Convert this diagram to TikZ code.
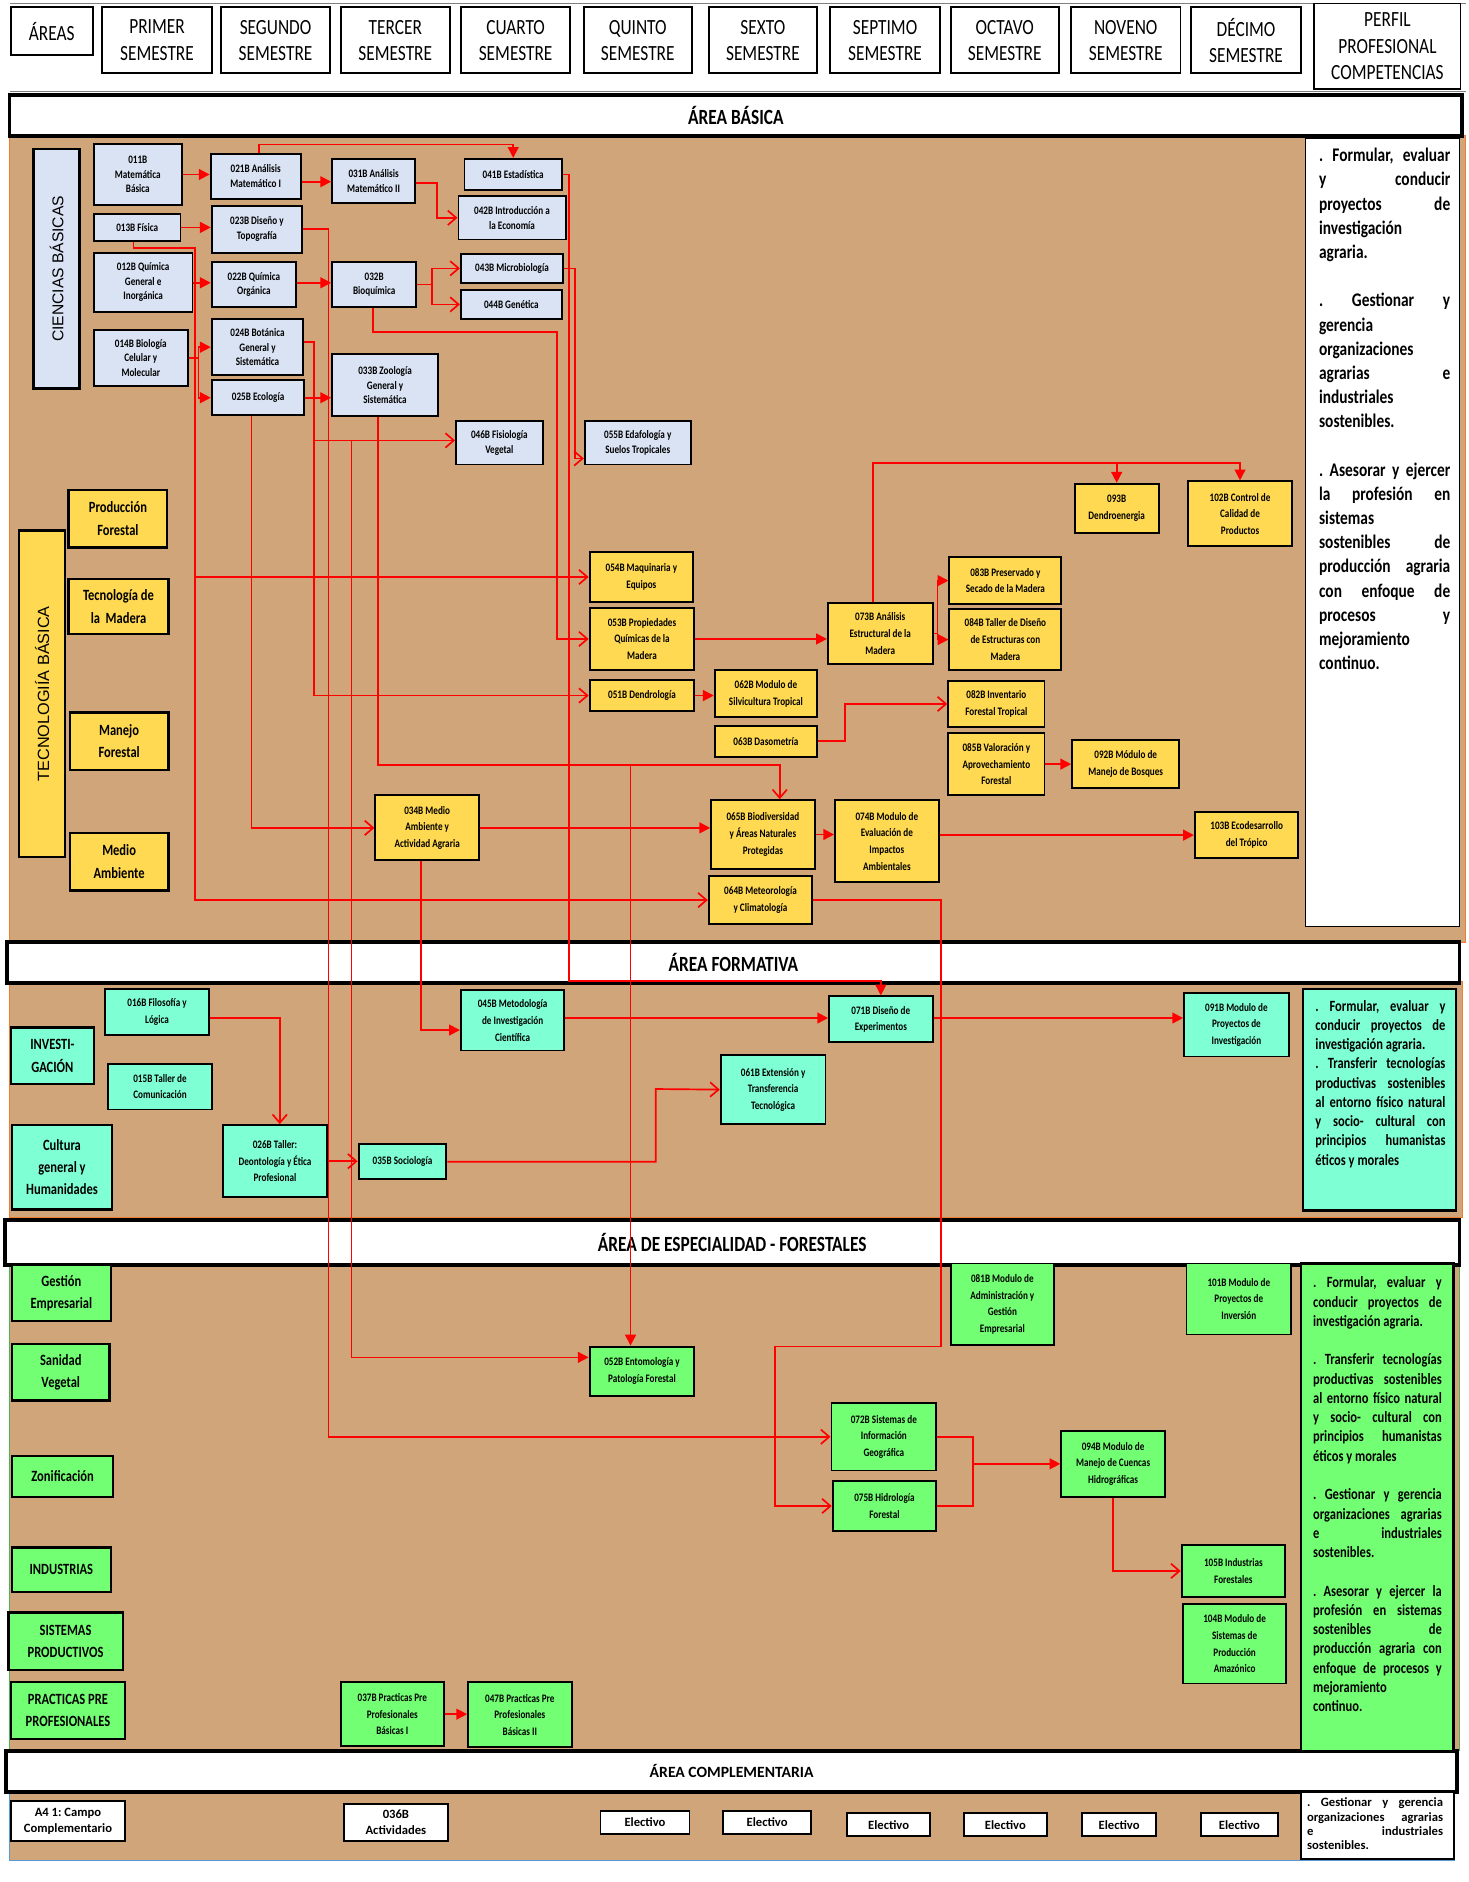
\documentclass[tikz,border=0pt]{standalone}
\usepackage{fontspec}
\setmainfont{Carlito}
\newfontfamily\cf[FakeStretch=0.8]{Carlito}
\newfontfamily\gf{Liberation Sans}
\usetikzlibrary{arrows.meta}
\definecolor{tanc}{RGB}{207,165,121}
\definecolor{lblue}{RGB}{218,227,243}
\definecolor{yel}{RGB}{255,217,82}
\definecolor{aqua}{RGB}{127,255,212}
\definecolor{lgreen}{RGB}{115,255,115}
\definecolor{orng}{RGB}{237,125,49}
\definecolor{bordb}{RGB}{91,155,213}
\pgfdeclarelayer{bg}
\pgfdeclarelayer{wires}
\pgfsetlayers{bg,wires,main}
\newcommand\bx[7]{\node[#2, minimum width={#5pt-#3pt}, minimum height={#6pt-#4pt}] (#1) at ({(#3+#5)/2},{(#4+#6)/2}) {#7};}
\newcommand\J[2]{\makebox[#1][s]{#2}}
\tikzset{
 boxb/.style={draw=black, line width=1.6pt, inner sep=1pt, align=center, font=\cf\bfseries\fontsize{9.5}{12.2}\selectfont},
 bl/.style={boxb, fill=lblue},
 ye/.style={boxb, fill=yel, font=\cf\bfseries\fontsize{9.5}{13.8}\selectfont},
 cy/.style={boxb, fill=aqua, font=\cf\bfseries\fontsize{9.5}{13.8}\selectfont},
 gr/.style={boxb, fill=lgreen, font=\cf\bfseries\fontsize{9.5}{13.8}\selectfont},
 yl/.style={boxb, line width=2pt, fill=yel, font=\cf\bfseries\fontsize{13}{18.5}\selectfont},
 cl/.style={boxb, line width=2pt, fill=aqua, font=\cf\bfseries\fontsize{13}{18.5}\selectfont},
 gl/.style={boxb, line width=2pt, fill=lgreen, font=\cf\bfseries\fontsize{13}{18.5}\selectfont},
 wb/.style={boxb, fill=white, font=\bfseries\fontsize{10.5}{13.3}\selectfont},
 hdr/.style={draw=black, line width=1.6pt, fill=white, inner sep=1pt, align=center, font=\cf\fontsize{18}{22}\selectfont},
 band/.style={draw=black, line width=3pt, fill=white, inner sep=0pt, font=\cf\bfseries\fontsize{18}{20}\selectfont},
 comp/.style={draw=black, line width=1.4pt, inner sep=0pt},
 ctext/.style={anchor=north west, inner sep=0pt, align=left},
 wire/.style={red, line width=1.4pt},
 af/.style={wire, -{Triangle[length=9pt,width=9pt]}},
 ao/.style={wire, -{Straight Barb[length=7pt,width=12pt]}},
}
\begin{document}
\frenchspacing
\begin{tikzpicture}[x=1pt,y=-1pt]
\useasboundingbox (0,0) rectangle (1220,1564);
\begin{pgfonlayer}{bg}
\fill[white] (0,0) rectangle (1220,1564);
\draw[fill=tanc, draw=orng, line width=0.8pt] (8,113) rectangle (1218,783);
\draw[fill=tanc, draw=orng, line width=0.8pt] (8,816) rectangle (1215,1012);
\draw[fill=tanc, draw=lgreen!70!black, line width=0.8pt] (8,1050) rectangle (1213,1455);
\draw[fill=tanc, draw=bordb, line width=0.8pt] (8,1488) rectangle (1209,1546);
\draw[gray, line width=1pt] (8,3) -- (1218,3);
\draw[gray, line width=1pt] (8,76) -- (1218,76);
\bx{bB}{band}{8}{79}{1215}{113}{ÁREA BÁSICA}
\bx{bF}{band}{6}{783}{1213}{817}{ÁREA FORMATIVA}
\bx{bE}{band}{4}{1014}{1213}{1051}{ÁREA DE ESPECIALIDAD - FORESTALES}
\bx{bC}{band, font=\bfseries\fontsize{13}{15}\selectfont}{5}{1455}{1211}{1489}{ÁREA COMPLEMENTARIA}
\bx{cB}{comp, fill=white}{1085}{115}{1213}{770}{}
\bx{cF}{comp, fill=aqua, line width=2pt}{1083}{822}{1210}{1006}{}
\bx{cE}{comp, fill=lgreen, line width=2pt}{1081}{1050}{1208}{1455}{}
\bx{cC}{comp, fill=white, line width=1.6pt}{1081}{1489}{1208}{1545}{}
\end{pgfonlayer}
% headers
\bx{hA}{hdr}{9}{6}{77}{46}{ÁREAS}
\bx{h1}{hdr}{85}{6}{176}{61}{PRIMER\\SEMESTRE}
\bx{h2}{hdr}{184}{6}{274}{61}{SEGUNDO\\SEMESTRE}
\bx{h3}{hdr}{283}{6}{374}{61}{TERCER\\SEMESTRE}
\bx{h4}{hdr}{383}{6}{474}{61}{CUARTO\\SEMESTRE}
\bx{h5}{hdr}{485}{6}{575}{61}{QUINTO\\SEMESTRE}
\bx{h6}{hdr}{589}{6}{679}{61}{SEXTO\\SEMESTRE}
\bx{h7}{hdr}{690}{6}{781}{61}{SEPTIMO\\SEMESTRE}
\bx{h8}{hdr}{790}{6}{880}{61}{OCTAVO\\SEMESTRE}
\bx{h9}{hdr}{890}{6}{981}{61}{NOVENO\\SEMESTRE}
\bx{h10}{hdr}{990}{6}{1081}{61}{DÉCIMO\\SEMESTRE}
\bx{hP}{hdr, line width=1pt}{1092}{3}{1214}{74}{PERFIL\\PROFESIONAL\\COMPETENCIAS}

% ---------------- basic sciences ----------------
\bx{cb}{bl, line width=2pt}{28}{124}{66}{323}{}
\node[rotate=90, font=\gf\fontsize{13}{15}\selectfont] (cbt) at (cb.center) {CIENCIAS BÁSICAS};
\bx{n011}{bl}{78}{120}{151}{170}{011B\\Matemática\\Básica}
\bx{n021}{bl}{175}{128}{250}{165}{021B Análisis\\Matemático I}
\bx{n031}{bl}{276}{132}{345}{169}{031B Análisis\\Matemático II}
\bx{n041}{bl}{386}{132}{467}{158}{041B Estadística}
\bx{n042}{bl}{381}{163}{470}{199}{042B Introducción a\\la Economía}
\bx{n013}{bl}{78}{178}{150}{200}{013B Física}
\bx{n023}{bl}{176}{171}{251}{210}{023B Diseño y\\Topografía}
\bx{n012}{bl}{78}{210}{160}{259}{012B Química\\General e\\Inorgánica}
\bx{n022}{bl}{176}{218}{246}{255}{022B Química\\Orgánica}
\bx{n032}{bl}{276}{218}{346}{255}{032B\\Bioquímica}
\bx{n043}{bl}{383}{211}{468}{235}{043B Microbiología}
\bx{n044}{bl}{383}{241}{467}{265}{044B Genética}
\bx{n024}{bl}{176}{265}{252}{312}{024B Botánica\\General y\\Sistemática}
\bx{n014}{bl}{78}{274}{156}{321}{014B Biología\\Celular y\\Molecular}
\bx{n025}{bl}{176}{316}{253}{345}{025B Ecología}
\bx{n033}{bl}{276}{294}{364}{346}{033B Zoología\\General y\\Sistemática}
\bx{n046}{bl}{379}{350}{451}{386}{046B Fisiología\\Vegetal}
\bx{n055}{bl}{486}{350}{574}{386}{055B Edafología y\\Suelos Tropicales}
% ---------------- basic technology ----------------
\bx{tb}{yl}{16}{441}{54}{712}{}
\node[rotate=90, font=\gf\fontsize{13.5}{15}\selectfont] (tbt) at (tb.center) {TECNOLOGIÍA BÁSICA};
\bx{lPF}{yl}{57}{407}{139}{455}{Producción\\Forestal}
\bx{lTM}{yl}{57}{481}{140}{527}{Tecnología de\\la~ Madera}
\bx{lMF}{yl}{58}{592}{140}{640}{Manejo\\Forestal}
\bx{lMA}{yl}{58}{692}{140}{740}{Medio\\Ambiente}
\bx{n054}{ye}{490}{459}{576}{500}{054B Maquinaria y\\Equipos}
\bx{n053}{ye}{490}{505}{577}{557}{053B Propiedades\\Químicas de la\\Madera}
\bx{n051}{ye}{490}{565}{577}{591}{051B Dendrología}
\bx{n034}{ye}{312}{661}{398}{715}{034B Medio\\Ambiente y\\Actividad Agraria}
\bx{n062}{ye}{594}{557}{679}{596}{062B Modulo de\\Silvicultura Tropical}
\bx{n063}{ye}{594}{603}{679}{629}{063B Dasometría}
\bx{n065}{ye}{591}{665}{677}{722}{065B Biodiversidad\\y Áreas Naturales\\Protegidas}
\bx{n064}{ye}{589}{728}{675}{768}{064B Meteorología\\y Climatología}
\bx{n073}{ye}{688}{501}{775}{552}{073B Análisis\\Estructural de la\\Madera}
\bx{n083}{ye}{789}{463}{882}{502}{083B Preservado y\\Secado de la Madera}
\bx{n084}{ye}{789}{506}{882}{557}{084B Taller de Diseño\\de Estructuras con\\Madera}
\bx{n082}{ye}{788}{566}{868}{604}{082B Inventario\\Forestal Tropical}
\bx{n085}{ye}{788}{609}{868}{661}{085B Valoración y\\Aprovechamiento\\Forestal}
\bx{n092}{ye}{891}{615}{980}{655}{092B Módulo de\\Manejo de Bosques}
\bx{n074}{ye}{694}{665}{780}{733}{074B Modulo de\\Evaluación de\\Impactos\\Ambientales}
\bx{n103}{ye}{993}{675}{1079}{713}{103B Ecodesarrollo\\del Trópico}
\bx{n093}{ye}{893}{402}{963}{443}{093B\\Dendroenergia}
\bx{n102}{ye}{987}{400}{1074}{454}{102B Control de\\Calidad de\\Productos}
% ---------------- formative ----------------
\bx{lIN}{cl}{9}{854}{78}{901}{INVESTI-\\GACIÓN}
\bx{lCG}{cl}{10}{935}{93}{1005}{Cultura\\general y\\Humanidades}
\bx{n016}{cy}{87}{822}{174}{860}{016B Filosofía y\\Lógica}
\bx{n015}{cy}{90}{884}{176}{922}{015B Taller de\\Comunicación}
\bx{n026}{cy}{185}{935}{272}{995}{026B Taller:\\Deontología y Ética\\Profesional}
\bx{n035}{cy}{298}{951}{371}{980}{035B Sociología}
\bx{n045}{cy}{383}{823}{469}{873}{045B Metodología\\de Investigación\\Científica}
\bx{n061}{cy}{599}{877}{686}{934}{061B Extensión y\\Transferencia\\Tecnológica}
\bx{n071}{cy}{689}{828}{775}{866}{071B Diseño de\\Experimentos}
\bx{n091}{cy}{984}{825}{1071}{878}{091B Modulo de\\Proyectos de\\Investigación}
% ---------------- speciality ----------------
\bx{lGE}{gl}{10}{1051}{92}{1098}{Gestión\\Empresarial}
\bx{lSV}{gl}{10}{1117}{91}{1164}{Sanidad\\Vegetal}
\bx{lZO}{gl}{10}{1210}{94}{1244}{Zonificación}
\bx{lIND}{gl}{10}{1286}{92}{1323}{INDUSTRIAS}
\bx{lSP}{gl}{7}{1340}{102}{1388}{SISTEMAS\\PRODUCTIVOS}
\bx{lPP}{gl}{9}{1398}{104}{1445}{PRACTICAS PRE\\PROFESIONALES}
\bx{n052}{gr}{490}{1119}{577}{1160}{052B Entomología y\\Patología Forestal}
\bx{n037}{gr}{283}{1398}{369}{1451}{037B Practicas Pre\\Profesionales\\Básicas I}
\bx{n047}{gr}{389}{1398}{475}{1452}{047B Practicas Pre\\Profesionales\\Básicas II}
\bx{n081}{gr}{790}{1050}{876}{1118}{081B Modulo de\\Administración y\\Gestión\\Empresarial}
\bx{n101}{gr}{986}{1050}{1073}{1109}{101B Modulo de\\Proyectos de\\Inversión}
\bx{n072}{gr}{691}{1166}{778}{1222}{072B Sistemas de\\Información\\Geográfica}
\bx{n075}{gr}{692}{1231}{778}{1272}{075B Hidrología\\Forestal}
\bx{n094}{gr}{882}{1189}{968}{1244}{094B Modulo de\\Manejo de Cuencas\\Hidrográficas}
\bx{n105}{gr}{982}{1284}{1068}{1327}{105B Industrias\\Forestales}
\bx{n104}{gr}{983}{1333}{1069}{1399}{104B Modulo de\\Sistemas de\\Producción\\Amazónico}
% ---------------- complementary ----------------
\bx{c1}{wb}{9}{1497}{104}{1530}{A4 1: Campo\\Complementario}
\bx{c2}{wb}{286}{1499}{372}{1530}{036B\\Actividades}
\bx{e1}{wb}{499}{1505}{573}{1524}{Electivo}
\bx{e2}{wb}{601}{1505}{674}{1524}{Electivo}
\bx{e3}{wb}{704}{1507}{773}{1526}{Electivo}
\bx{e4}{wb}{801}{1507}{870}{1526}{Electivo}
\bx{e5}{wb}{899}{1507}{961}{1526}{Electivo}
\bx{e6}{wb}{998}{1507}{1062}{1526}{Electivo}

% ---------------- wires ----------------
\begin{pgfonlayer}{wires}
\draw[af] (n011.east) -- (n011.east -| n021.west);
\draw[af] (n021.east |- 0,151) -- (n031.west |- 0,151);
\draw[af] (n021.north -| 215,0) -- (215,120) -| (n041.north);
\draw[ao] (n031.east |- 0,152) -- (363,152) |- (n042.west);
\draw[af] (n013.east) -- (n013.east -| n023.west);
\draw[af] (n012.east |- 0,235) -- (n022.west |- 0,235);
\draw[af] (n022.east |- 0,235) -- (n032.west |- 0,235);
\draw[wire] (n032.east) -- (n032.east -| 359,0);
\draw[ao] (n032.east -| 359,0) |- (n043.west);
\draw[ao] (n032.east -| 359,0) |- (n044.west);
\draw[wire] (n014.east) -- (n014.east -| 165,0);
\draw[af] (n014.east -| 165,0) |- (n024.west);
\draw[af] (n014.east -| 165,0) |- (n025.west);
\draw[af] (n025.east) -- (n025.east -| n033.west);
\draw[af] (n041.east) -| (473,815) -| (n071.north);
\draw[ao] (n043.east) -| (478,381) -- (n055.west |- 0,381);
\draw[ao] (n032.south -| 310,0) |- (463,276) |- (n053.west);
\draw[ao] (n013.south -| 111,0) |- (162,206) |- (n064.west);
\draw[ao] (n054.west -| 162,0) -- (n054.west);
\draw[ao] (n025.south -| 209,0) |- (n034.west);
\draw[ao] (n024.east |- 0,284) -| (261,366) |- (n051.west);
\draw[ao] (261,366) -- (n046.west |- 0,366);
\draw[af] (292,366) |- (n052.west |- 0,1128);
\draw[ao] (n023.east) -| (n072.west -| 273,0) -- (n072.west);
\draw[ao] (n033.south -| 314,0) |- (648,636) -- (n065.north -| 648,0);
\draw[af] (524,636) -- (n052.north -| 524,0);
\draw[af] (n034.south -| 350,0) |- (n045.west |- 0,856);
\draw[af] (n053.east |- 0,531) -- (n073.west |- 0,531);
\draw[wire] (n073.east) -- (n073.east -| 779,0);
\draw[af] (n073.east -| 779,0) |- (n083.west);
\draw[af] (n073.east -| 779,0) |- (n084.west);
\draw[af] (n073.north -| 725.5,0) -- (725.5,384.5) -| (n102.north);
\draw[af] (n093.north |- 0,384.5) -- (n093.north);
\draw[af] (n051.east) -- (n051.east -| n062.west);
\draw[ao] (n063.east) -| (702,585) -- (n082.west);
\draw[af] (n085.east) -- (n085.east -| n092.west);
\draw[af] (n034.east) -- (n034.east -| n065.west);
\draw[af] (n065.east) -- (n065.east -| n074.west);
\draw[af] (n074.east |- 0,694) -- (n103.west);
\draw[ao] (n064.east) -| (782,1119) -| (644,1251.5) -- (n075.west);
\draw[wire] (n072.east) -| (808.6,1251.5) -- (n075.east);
\draw[af] (n094.west -| 808.6,0) -- (n094.west);
\draw[ao] (n094.south) |- (n105.west);
\draw[ao] (n016.east |- 0,846) -| (n026.north -| 232.5,0);
\draw[ao] (n026.east) -- (n026.east -| n035.west);
\draw[ao] (n035.east) -| (545,905) -- (n061.west);
\draw[af] (n045.east |- 0,846) -- (n071.west |- 0,846);
\draw[af] (n071.east |- 0,846) -- (n091.west |- 0,846);
\draw[af] (n037.east) -- (n037.east -| n047.west);
\end{pgfonlayer}

% ---------------- competency texts ----------------
\node[ctext, font=\cf\bfseries\fontsize{16}{20.1}\selectfont] (tB) at (1096,123) {%
\J{109pt}{. Formular, evaluar}\\
\J{109pt}{y conducir}\\
\J{109pt}{proyectos de}\\
investigación\\
agraria.\\
\mbox{}\\
\J{109pt}{. Gestionar y}\\
gerencia\\
organizaciones\\
\J{109pt}{agrarias e}\\
industriales\\
sostenibles.\\
\mbox{}\\
\J{109pt}{. Asesorar y ejercer}\\
\J{109pt}{la profesión en}\\
sistemas\\
\J{109pt}{sostenibles de}\\
\J{109pt}{producción agraria}\\
\J{109pt}{con enfoque de}\\
\J{109pt}{procesos y}\\
mejoramiento\\
continuo.};
\node[ctext, font=\cf\bfseries\fontsize{13}{16}\selectfont] (tF) at (1093,831) {%
\J{108pt}{. Formular, evaluar y}\\
\J{108pt}{conducir proyectos de}\\
investigación agraria.\\
\J{108pt}{. Transferir tecnologías}\\
\J{108pt}{productivas sostenibles}\\
\J{108pt}{al entorno físico natural}\\
\J{108pt}{y socio- cultural con}\\
\J{108pt}{principios humanistas}\\
éticos y morales};
\node[ctext, font=\cf\bfseries\fontsize{13}{16}\selectfont] (tE) at (1091,1061) {%
\J{107pt}{. Formular, evaluar y}\\
\J{107pt}{conducir proyectos de}\\
investigación agraria.\\
\mbox{}\\
\J{107pt}{. Transferir tecnologías}\\
\J{107pt}{productivas sostenibles}\\
\J{107pt}{al entorno físico natural}\\
\J{107pt}{y socio- cultural con}\\
\J{107pt}{principios humanistas}\\
éticos y morales\\
\mbox{}\\
\J{107pt}{. Gestionar y gerencia}\\
\J{107pt}{organizaciones agrarias}\\
\J{107pt}{e industriales}\\
sostenibles.\\
\mbox{}\\
\J{107pt}{. Asesorar y ejercer la}\\
\J{107pt}{profesión en sistemas}\\
\J{107pt}{sostenibles de}\\
\J{107pt}{producción agraria con}\\
\J{107pt}{enfoque de procesos y}\\
mejoramiento\\
continuo.};
\node[ctext, font=\bfseries\fontsize{10.5}{11.9}\selectfont] (tC) at (1086,1494) {%
\J{113pt}{. Gestionar y gerencia}\\
\J{113pt}{organizaciones agrarias}\\
\J{113pt}{e industriales}\\
sostenibles.};
\end{tikzpicture}
\end{document}
